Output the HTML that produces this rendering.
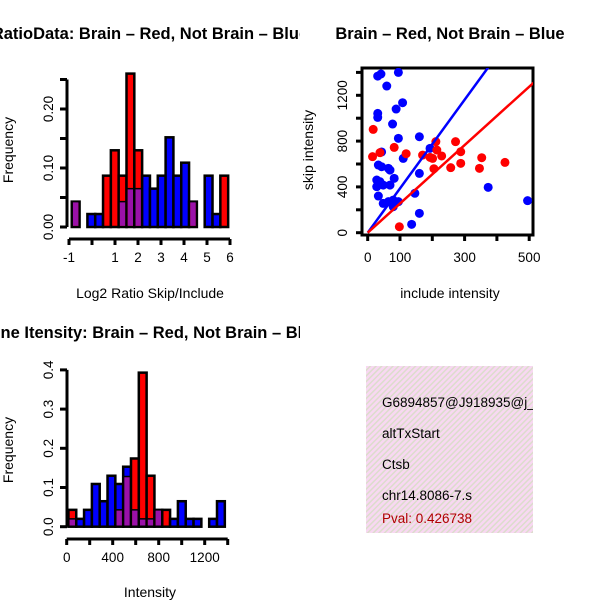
<!DOCTYPE html>
<html><head><meta charset="utf-8"><style>
html,body{margin:0;padding:0;background:#fff}
svg{display:block;font-family:"Liberation Sans",sans-serif}
</style></head><body>
<svg id="s" width="600" height="600" viewBox="0 0 600 600">
<defs>
<clipPath id="cL"><rect x="0" y="0" width="300" height="600"/></clipPath>
<clipPath id="cP"><rect x="366" y="366" width="167" height="167"/></clipPath>
<pattern id="hatch" width="4" height="4" patternUnits="userSpaceOnUse" patternTransform="rotate(45)">
<rect width="4" height="4" fill="#f8d8f2"/><rect width="1.5" height="4" fill="#dcdccc"/></pattern>
</defs>
<g clip-path="url(#cL)">
<text x="150" y="39" text-anchor="middle" font-weight="bold" font-size="16.5">RatioData: Brain – Red, Not Brain – Blue</text>
<text x="150" y="338" text-anchor="middle" font-weight="bold" font-size="16.5">Gene Itensity: Brain – Red, Not Brain – Blue</text>
</g>
<text x="450" y="39" text-anchor="middle" font-weight="bold" font-size="16.5">Brain – Red, Not Brain – Blue</text>
<text x="150" y="298" text-anchor="middle" font-size="14">Log2 Ratio Skip/Include</text>
<text x="450" y="298" text-anchor="middle" font-size="14">include intensity</text>
<text x="150" y="597" text-anchor="middle" font-size="14">Intensity</text>
<text transform="translate(13,150) rotate(-90)" text-anchor="middle" font-size="14">Frequency</text>
<text transform="translate(13,450) rotate(-90)" text-anchor="middle" font-size="14">Frequency</text>
<text transform="translate(313,150) rotate(-90)" text-anchor="middle" font-size="14">skip intensity</text>
<g id="h1"></g>
<g id="h2"></g>
<g id="sc"></g>
<g>
<rect x="366" y="366" width="167" height="167" fill="url(#hatch)"/>
<g clip-path="url(#cP)" font-size="13.5">
<text x="382" y="407">G6894857@J918935@j_</text>
<text x="382" y="438">altTxStart</text>
<text x="382" y="469">Ctsb</text>
<text x="382" y="500">chr14.8086-7.s</text>
<text x="382" y="523" fill="#b00000">Pval: 0.426738</text>
</g></g>
</svg>
<script>
// Ratio histogram data
const ratioStart = -0.88, ratioWidth = 0.34;
const ratioRed  = [0.043,0,0,0,0.087,0.13,0.087,0.26,0.13,0,0,0,0,0,0,0.043,0,0,0,0.087];
const ratioBlue = [0.043,0,0.022,0.022,0,0,0.043,0.065,0.065,0.087,0.065,0.087,0.152,0.087,0.109,0.043,0,0.087,0.022,0];
const ratioXTicks = [-1,0,1,2,3,4,5,6];
const ratioXLabels = ["-1","","1","2","3","4","5","6"];
const ratioYTicks = [0,0.05,0.10,0.15,0.20,0.25];
const ratioYLabels = ["0.00","","0.10","","0.20",""];
// Intensity histogram data
const intStart = 15, intWidth = 68;
const intRed  = [0.043,0,0,0,0,0,0.043,0.128,0.174,0.393,0.13,0.043,0.043,0,0,0,0,0,0,0];
const intBlue = [0.02,0.02,0.043,0.109,0.065,0.13,0.109,0.153,0.043,0.02,0.02,0.043,0,0.02,0.065,0.02,0.02,0,0.02,0.065];
const intXTicks = [0,200,400,600,800,1000,1200,1400];
const intXLabels = ["0","","400","","800","","1200",""];
const intYTicks = [0,0.1,0.2,0.3,0.4];
const intYLabels = ["0.0","0.1","0.2","0.3","0.4"];
// Scatter data
const blueX = [31,41,59,95,108,88,31,31,77,95,160,43,110,33,43,64,69,28,38,82,28,48,69,33,48,64,79,95,79,146,160,160,136,193,373,495];
const blueY = [1368,1386,1281,1400,1135,1080,1042,1007,949,824,838,705,649,591,576,562,547,460,445,475,402,416,416,320,256,271,285,271,227,344,518,169,73,737,396,280];
const redX = [17,15,38,82,119,170,193,211,214,201,229,205,257,272,288,288,346,353,425,98];
const redY = [902,664,699,745,690,678,658,795,722,649,670,559,568,795,707,606,562,655,614,52];
const blueSlope = 3.87, redSlope = 2.55;
const scXTicks = [0,100,200,300,400,500];
const scXLabels = ["0","100","","300","","500"];
const scYTicks = [0,200,400,600,800,1000,1200,1400];
const scYLabels = ["0","","400","","800","","1200",""];

const NS="http://www.w3.org/2000/svg";
function mk(p,t,a){const e=document.createElementNS(NS,t);for(const k in a)e.setAttribute(k,a[k]);p.appendChild(e);return e;}

function hist(g,start,width,red,blue,xf,yf,xt,xl,yt,yl,axY,axX,nm){
  for(let i=0;i<red.length;i++){
    const x0=xf(start+i*width),x1=xf(start+(i+1)*width);
    const r=red[i],b=blue[i],m=Math.min(r,b),mx=Math.max(r,b);
    if(mx<=0)continue;
    const top=mk(g,'rect',{x:x0,y:yf(mx),width:x1-x0,height:yf(0)-yf(mx),fill:r>=b?'#ff0000':'#0000ff',stroke:'#000','stroke-width':2.5});
    
    
    if(m>0){
      const p=mk(g,'rect',{x:x0+1.2,y:yf(m),width:x1-x0-2.4,height:yf(0)-yf(m)-1.2,fill:'#9a11a8'});
      
      
      mk(g,'line',{x1:x0,y1:yf(m),x2:x1,y2:yf(m),stroke:'#000','stroke-width':1.5});
    }
  }
  mk(g,'line',{x1:xf(xt[0]),y1:axY,x2:xf(xt[xt.length-1]),y2:axY,stroke:'#000','stroke-width':3});
  xt.forEach((v,i)=>{mk(g,'line',{x1:xf(v),y1:axY,x2:xf(v),y2:axY+6,stroke:'#000','stroke-width':3});
    if(xl[i]){const t=mk(g,'text',{x:xf(v),y:axY+23,'text-anchor':'middle','font-size':13.5});t.textContent=xl[i];
    
    }});
  mk(g,'line',{x1:axX,y1:yf(yt[0]),x2:axX,y2:yf(yt[yt.length-1]),stroke:'#000','stroke-width':3});
  yt.forEach((v,i)=>{mk(g,'line',{x1:axX-7,y1:yf(v),x2:axX,y2:yf(v),stroke:'#000','stroke-width':3});
    if(yl[i]){const t=mk(g,'text',{transform:`translate(${axX-14},${yf(v)}) rotate(-90)`,'text-anchor':'middle','font-size':13.5});t.textContent=yl[i];
    
    }});
}
hist(document.getElementById('h1'),ratioStart,ratioWidth,ratioRed,ratioBlue,
  v=>92+v*23, v=>227-v*590, ratioXTicks,ratioXLabels,ratioYTicks,ratioYLabels,239,67,'ratio');
hist(document.getElementById('h2'),intStart,intWidth,intRed,intBlue,
  v=>66.7+v*0.115, v=>526.7-v*392, intXTicks,intXLabels,intYTicks,intYLabels,539,67,'intensity');

// scatter
const sg=document.getElementById('sc');
const sx=v=>367.7+v*0.323, sy=v=>232.7-v*0.1145;
mk(sg,'rect',{x:362,y:68,width:171,height:167,fill:'none',stroke:'#000','stroke-width':3});
const cp=mk(mk(sg,'defs',{}),'clipPath',{id:'cS'});mk(cp,'rect',{x:362,y:68,width:171,height:167});
const inner=mk(sg,'g',{'clip-path':'url(#cS)'});
blueX.forEach((v,i)=>{const c=mk(inner,'circle',{cx:sx(v),cy:sy(blueY[i]),r:4.5,fill:'#0000ff'});
  
  });
redX.forEach((v,i)=>{const c=mk(inner,'circle',{cx:sx(v),cy:sy(redY[i]),r:4.5,fill:'#ff0000'});
  
  });
const bl=mk(inner,'line',{x1:sx(0),y1:sy(0),x2:sx(600),y2:sy(600*blueSlope),stroke:'#0000ff','stroke-width':2.5});


const rl=mk(inner,'line',{x1:sx(0),y1:sy(0),x2:sx(600),y2:sy(600*redSlope),stroke:'#ff0000','stroke-width':2.5});


scXTicks.forEach((v,i)=>{mk(sg,'line',{x1:sx(v),y1:235,x2:sx(v),y2:241,stroke:'#000','stroke-width':3});
  if(scXLabels[i]){const t=mk(sg,'text',{x:sx(v),y:262,'text-anchor':'middle','font-size':13.5});t.textContent=scXLabels[i];
  
  }});
scYTicks.forEach((v,i)=>{mk(sg,'line',{x1:356,y1:sy(v),x2:362,y2:sy(v),stroke:'#000','stroke-width':3});
  if(scYLabels[i]){const t=mk(sg,'text',{transform:`translate(347,${sy(v)}) rotate(-90)`,'text-anchor':'middle','font-size':13.5});t.textContent=scYLabels[i];
  
  }});
</script>
</body></html>
